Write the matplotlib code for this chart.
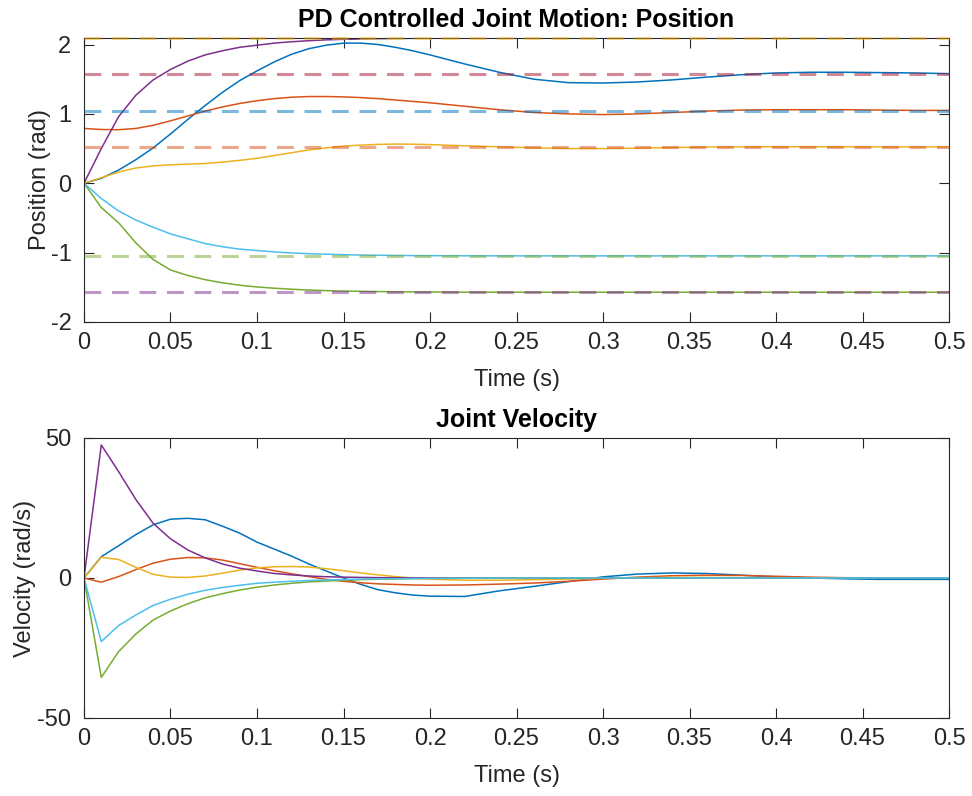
import numpy as np
import matplotlib
matplotlib.use("Agg")
import matplotlib.pyplot as plt

plt.rcParams['font.family'] = ['Liberation Sans', 'DejaVu Sans']
plt.rcParams['axes.unicode_minus'] = False

# matlab default colour order
colors = ['#0072BD', '#D95319', '#EDB120', '#7E2F8E', '#77AC30', '#4DBEEE', '#A2142F']

t = [0, .01, .02, .03, .04, .05, .06, .07, .08, .09, .10, .11, .12, .13, .14, .15,
     .16, .17, .18, .19, .20, .22, .24, .26, .28, .30, .32, .34, .36, .38, .40,
     .42, .44, .46, .48, .50]

# joint positions (rad)
q1 = [0, 0.07, 0.19, 0.34, 0.51, 0.71, 0.92, 1.12, 1.31, 1.48, 1.62, 1.75, 1.86, 1.94, 1.99, 2.02,
      2.02, 2.0, 1.96, 1.91, 1.85, 1.72, 1.6, 1.5, 1.45, 1.445, 1.46, 1.49, 1.53, 1.565, 1.59,
      1.6, 1.6, 1.595, 1.59, 1.58]
q2 = [0.79, 0.775, 0.772, 0.79, 0.835, 0.9, 0.97, 1.04, 1.1, 1.15, 1.19, 1.22, 1.24, 1.25, 1.25, 1.245,
      1.235, 1.22, 1.2, 1.18, 1.16, 1.11, 1.06, 1.02, 1.0, 0.99, 1.0, 1.02, 1.04, 1.055, 1.06,
      1.06, 1.06, 1.055, 1.05, 1.05]
q3 = [0, 0.08, 0.16, 0.22, 0.25, 0.265, 0.275, 0.285, 0.305, 0.33, 0.36, 0.4, 0.44, 0.48, 0.51, 0.535,
      0.55, 0.56, 0.565, 0.563, 0.557, 0.54, 0.525, 0.51, 0.5, 0.5, 0.505, 0.515, 0.522, 0.525, 0.526,
      0.526, 0.525, 0.524, 0.524, 0.524]
q4 = [0, 0.5, 0.96, 1.27, 1.49, 1.64, 1.76, 1.85, 1.91, 1.96, 1.99, 2.02, 2.04, 2.055, 2.067, 2.075,
      2.081, 2.085, 2.088, 2.09, 2.092, 2.093, 2.094, 2.094, 2.094, 2.094, 2.094, 2.094, 2.094, 2.094, 2.094,
      2.094, 2.094, 2.094, 2.094, 2.094]
q5 = [0, -0.35, -0.57, -0.86, -1.1, -1.25, -1.33, -1.39, -1.435, -1.47, -1.495, -1.513, -1.528, -1.54, -1.548, -1.554,
      -1.558, -1.562, -1.565, -1.567, -1.568, -1.57, -1.571, -1.571, -1.571, -1.571, -1.571, -1.571, -1.571, -1.571, -1.571,
      -1.571, -1.571, -1.571, -1.571, -1.571]
q6 = [0, -0.22, -0.4, -0.53, -0.635, -0.73, -0.8, -0.87, -0.915, -0.95, -0.97, -0.99, -1.005, -1.015, -1.023, -1.03,
      -1.035, -1.038, -1.041, -1.043, -1.044, -1.046, -1.047, -1.047, -1.047, -1.047, -1.047, -1.047, -1.047, -1.047, -1.047,
      -1.047, -1.047, -1.047, -1.047, -1.047]

# joint velocities (rad/s)
v1 = [0, 7.6, 11.5, 15.5, 19, 21, 21.3, 20.8, 18.5, 16, 12.8, 10.3, 7.8, 5, 2.5, 0,
      -2.3, -4.2, -5.3, -6.1, -6.5, -6.6, -4.6, -3, -1.3, 0.4, 1.4, 1.8, 1.6, 1.0, 0.4,
      0, -0.3, -0.5, -0.5, -0.5]
v2 = [0, -1.5, 0.5, 3, 5.3, 6.7, 7.3, 7.2, 6.4, 5.1, 3.8, 2.6, 1.5, 0.5, -0.5, -1.2,
      -1.7, -2.1, -2.3, -2.5, -2.6, -2.5, -2.2, -1.8, -1.2, -0.4, 0.3, 0.8, 1.0, 0.9, 0.6,
      0.3, 0.1, 0, -0.1, -0.1]
v3 = [0, 7.4, 6.6, 3.8, 1.3, 0.3, 0.2, 0.7, 1.7, 2.8, 3.6, 4, 4.1, 3.9, 3.3, 2.6,
      1.8, 1.1, 0.5, 0, -0.4, -0.8, -0.8, -0.6, -0.4, -0.1, 0.1, 0.2, 0.2, 0.1, 0.05,
      0, 0, 0, 0, 0]
v4 = [0, 47.5, 38, 28, 19.5, 14, 10, 7.2, 5, 3.5, 2.5, 1.6, 1.1, 0.7, 0.45, 0.3,
      0.2, 0.12, 0.08, 0.05, 0.03, 0, 0, 0, 0, 0, 0, 0, 0, 0, 0,
      0, 0, 0, 0, 0]
v5 = [0, -35.5, -26.3, -20, -15, -11.8, -9.2, -7.1, -5.6, -4.3, -3.3, -2.5, -1.9, -1.4, -1.1, -0.8,
      -0.6, -0.45, -0.35, -0.25, -0.2, -0.1, -0.05, 0, 0, 0, 0, 0, 0, 0, 0,
      0, 0, 0, 0, 0]
v6 = [0, -22.7, -17, -13.2, -9.8, -7.6, -5.8, -4.4, -3.4, -2.6, -1.9, -1.5, -1.2, -0.9, -0.7, -0.55,
      -0.42, -0.32, -0.25, -0.2, -0.15, -0.08, -0.04, 0, 0, 0, 0, 0, 0, 0, 0,
      0, 0, 0, 0, 0]

targets = [np.pi/2, np.pi/3, np.pi/6, 2*np.pi/3, -np.pi/2, -np.pi/3]

fig = plt.figure(figsize=(9.72, 7.96), dpi=100)
ax1 = fig.add_axes([0.0864, 0.5955, 0.89, 0.3568])
ax2 = fig.add_axes([0.0864, 0.098, 0.89, 0.3518])

fs = 17

def style(ax):
    for s in ax.spines.values():
        s.set_color('#262626')
        s.set_linewidth(0.8)
    ax.tick_params(direction='in', top=True, right=True, length=7, width=0.8,
                   colors='#262626', labelsize=fs)
    ax.tick_params(axis='x', pad=7)
    ax.tick_params(axis='y', pad=9)
    ax.set_xlim(0, 0.5)
    ax.set_xticks(np.arange(0, 0.51, 0.05))
    ax.set_xticklabels(['0', '0.05', '0.1', '0.15', '0.2', '0.25', '0.3', '0.35', '0.4', '0.45', '0.5'])

for i, q in enumerate([q1, q2, q3, q4, q5, q6]):
    ax1.plot(t, q, color=colors[i], lw=1.1)
for i, qd in enumerate(targets):
    ax1.plot([0, 0.5], [qd, qd], color=colors[(i + 6) % 7], lw=2.2, alpha=0.5,
             dashes=(5.5, 3.5), zorder=3, clip_on=False)
style(ax1)
ax1.set_ylim(-2, 2 * np.pi / 3)
ax1.set_yticks([-2, -1, 0, 1, 2])
ax1.set_xlabel('Time (s)', fontsize=fs, color='#262626', labelpad=11)
ax1.set_ylabel('Position (rad)', fontsize=fs, color='#262626', labelpad=0)
ax1.set_title('PD Controlled Joint Motion: Position', fontsize=18, fontweight='bold', pad=8)

for i, v in enumerate([v1, v2, v3, v4, v5, v6]):
    ax2.plot(t, v, color=colors[i], lw=1.1)
style(ax2)
ax2.set_ylim(-50, 50)
ax2.set_yticks([-50, 0, 50])
ax2.set_xlabel('Time (s)', fontsize=fs, color='#262626', labelpad=11)
ax2.set_ylabel('Velocity (rad/s)', fontsize=fs, color='#262626', labelpad=1)
ax2.set_title('Joint Velocity', fontsize=18, fontweight='bold', pad=8)

fig.savefig('out.png', dpi=100)
